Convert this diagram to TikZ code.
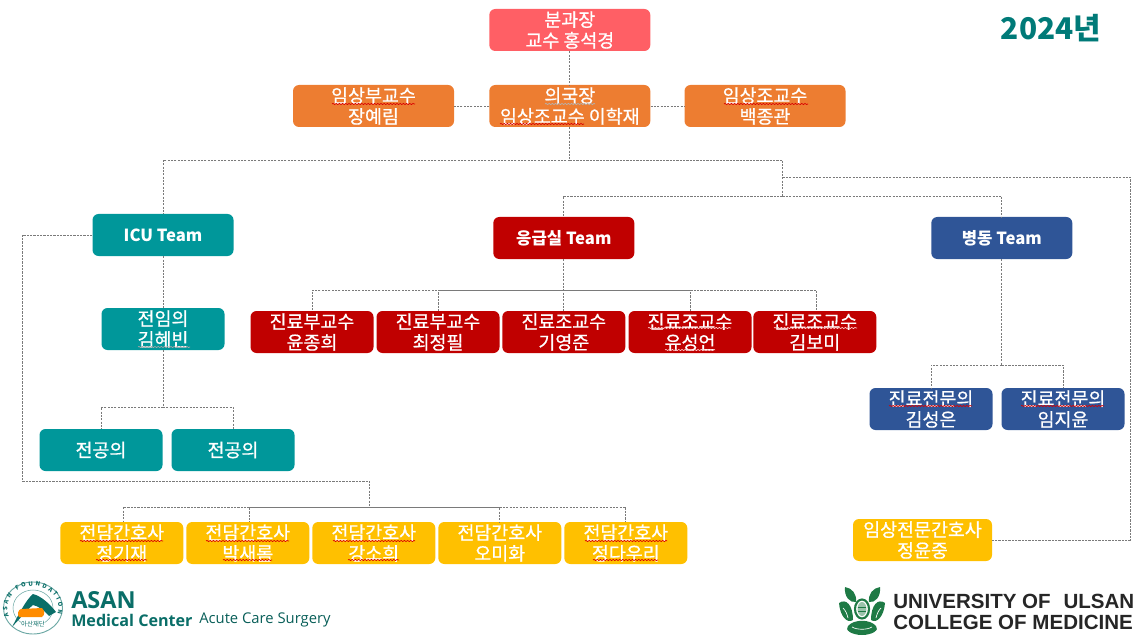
\documentclass[tikz,border=0pt]{standalone}
\usepackage{fontspec}
\setmainfont{Noto Sans CJK KR}
\newfontfamily\krb{Noto Sans CJK KR}[FakeBold=0.7]
\newfontfamily\lheavy{Open Sans}
\newfontfamily\lib{Liberation Sans}
\usetikzlibrary{decorations.pathmorphing,decorations.text}
\definecolor{cpink}{HTML}{FF5F65}
\definecolor{corange}{HTML}{ED7D31}
\definecolor{cteal}{HTML}{00979A}
\definecolor{cred}{HTML}{C00000}
\definecolor{cblue}{HTML}{2F5597}
\definecolor{cyellow}{HTML}{FFC000}
\definecolor{cyear}{HTML}{007A78}
\definecolor{casan}{HTML}{0A6E68}
\definecolor{cgreen}{HTML}{1E7A45}
\definecolor{cline}{HTML}{7A7A7A}
\tikzset{
  orgbox/.style={rounded corners=4.5pt,inner sep=0pt,text=white,align=center,
    minimum width=92.25pt,minimum height=31.5pt,
    font=\krb\fontsize{13.8}{15.6}\selectfont},
  wide/.style={minimum width=120.75pt},
  teambox/.style={orgbox,minimum width=105.75pt,font=\fontsize{12.5}{15}\bfseries},
  conn/.style={draw=cline,line width=.55pt,dash pattern=on 1.6pt off .9pt},
  conninner/.style={conn,dash phase=1.3pt},
  squig/.style={line width=.5pt,decorate,decoration={snake,amplitude=.45pt,segment length=2.4pt}},
}
\newcommand{\sq}[4][red!85!black]{\draw[squig,#1] (#2,#4) -- (#3,#4);}
\begin{document}
\begin{tikzpicture}[x=.75pt,y=-.75pt]
\useasboundingbox (0,0) rectangle (1139,638);
% top
\node[orgbox,wide,fill=cpink] (top) at (569.8,30) {분과장\\교수 홍석경};
\node[orgbox,wide,fill=corange] (dir) at (569.8,106) {의국장\\임상조교수 이학재};
\node[orgbox,wide,fill=corange] (assoc) at (373.5,106) {임상부교수\\장예림};
\node[orgbox,wide,fill=corange] (asst) at (765,106) {임상조교수\\백종관};
% teams
\node[teambox,fill=cteal] (icu) at (163,235) {ICU Team};
\node[teambox,fill=cred] (er) at (563.8,238) {응급실 Team};
\node[teambox,fill=cblue] (ward) at (1001.8,238) {병동 Team};
% ICU
\node[orgbox,fill=cteal] (fellow) at (163,329) {전임의\\김혜빈};
\node[orgbox,fill=cteal] (res1) at (101,450) {전공의};
\node[orgbox,fill=cteal] (res2) at (233,450) {전공의};
% ER
\node[orgbox,fill=cred] (r1) at (312,332) {진료부교수\\윤종희};
\node[orgbox,fill=cred] (r2) at (438,332) {진료부교수\\최정필};
\node[orgbox,fill=cred] (r3) at (563.8,332) {진료조교수\\기영준};
\node[orgbox,fill=cred] (r4) at (690,332) {진료조교수\\유성언};
\node[orgbox,fill=cred] (r5) at (814.8,332) {진료조교수\\김보미};
% ward
\node[orgbox,fill=cblue] (w1) at (931,409) {진료전문의\\김성은};
\node[orgbox,fill=cblue] (w2) at (1063,409) {진료전문의\\임지윤};
% nurses
\node[orgbox,fill=cyellow] (n1) at (121.8,543) {전담간호사\\정기재};
\node[orgbox,fill=cyellow] (n2) at (247.8,543) {전담간호사\\박새롬};
\node[orgbox,fill=cyellow] (n3) at (373.8,543) {전담간호사\\강소희};
\node[orgbox,fill=cyellow] (n4) at (499.8,543) {전담간호사\\오미화};
\node[orgbox,fill=cyellow] (n5) at (625.8,543) {전담간호사\\정다우리};
\node[orgbox,minimum width=104.25pt,fill=cyellow] (np) at (922.5,540) {임상전문간호사\\정윤중};
% year
\node[text=cyear,inner sep=0pt,font=\fontsize{22.4}{26}\bfseries] (year) at (1051,28) {2024년};
% junctions
\coordinate (j1) at (569.8,160);
\coordinate (j2) at (782.5,160);
\coordinate (j3) at (782.5,177);
\coordinate (j4) at (782.5,196);
\coordinate (cr) at (1130,177);
\coordinate (cl1) at (22,235);
\coordinate (cl2) at (22,481);
\coordinate (cl3) at (369.5,481);
\coordinate (cl4) at (369.5,507);
\coordinate (j5) at (563.8,290);
\coordinate (j6) at (163,407);
\coordinate (j7) at (1001.8,365);
% connectors
\draw[conn] (top) -- (dir);
\draw[conn] (dir) -- (assoc);
\draw[conn] (dir) -- (asst);
\draw[conn] (dir) -- (j1);
\draw[conn] (j1) -| (icu);
\draw[conn] (j1) -- (j2) -- (j4);
\draw[conn] (j4) -| (er);
\draw[conn] (j4) -| (ward);
\draw[conn] (j3) -- (cr) |- (np);
\draw[conn] (icu) -- (cl1) -- (cl2) -- (cl3) -- (cl4);
\draw[conn] (cl4) -| ([xshift=.9pt]n1.north);
\draw[conninner] (cl4) -| ([xshift=.9pt]n2.north);
\draw[conninner] (cl4) -| (n4);
\draw[conn] (cl4) -| (n5);
\draw[conn] (er) -- (r3);
\draw[conn] (j5) -| (r1);
\draw[conninner] (j5) -| (r2);
\draw[conninner] (j5) -| (r4);
\draw[conn] (j5) -| ([xshift=.9pt]r5.north);
\draw[conn] (icu) -- (fellow);
\draw[conn] (fellow) -- (j6);
\draw[conn] (j6) -| (res1);
\draw[conn] (j6) -| (res2);
\draw[conn] (ward) -- (j7);
\draw[conn] (j7) -| (w1);
\draw[conn] (j7) -| (w2);
% spell-check squiggles
\sq{332}{415}{104}
\sq[gray!60!white]{545}{595}{104}
\sq{500}{584}{124}
\sq{724}{808}{104}
\sq[gray!70!white]{138}{190}{347}
\sq[white!80!red]{648}{731}{328}
\sq[white!80!red]{665}{715}{350}
\sq[white!80!red]{774}{857}{328}
\sq{889}{972}{406}
\sq{1021}{1104}{406}
\sq{80}{163}{541}
\sq{96}{147}{560}
\sq{206}{289}{541}
\sq{223}{272}{560}
\sq{333}{415}{541}
\sq{348}{399}{560}
\sq{585}{667}{541}
\sq{593}{658}{560}
% ASAN logo
\draw[casan!60!white,line width=.7pt] (33,608) ellipse [x radius=29.5,y radius=26];
\draw[casan!60!white,line width=.4pt] (33,608) ellipse [x radius=20,y radius=18];
\path[decorate,decoration={text along path,text align={fit to path},
  text={|\fontsize{4.4}{6}\bfseries\color{casan}|ASAN FOUNDATION}}]
  (8.9,616) arc[start angle=160,end angle=375,x radius=25.5,y radius=22.5];
\fill[casan] (12,627) .. controls (20,612) and (26,600) .. (33,594) .. controls (41,596) and (50,604) .. (56,612)
  -- (49,616) .. controls (44,610) and (38,606) .. (33,605) .. controls (29,608) and (24,614) .. (12,627) -- cycle;
\fill[orange!90!yellow] (21,609) -- (42,608) .. controls (45,611) and (45,615) .. (42,617) -- (19,617) .. controls (17,614) and (18,610) .. (21,609) -- cycle;
\node[text=casan,fill=white,inner sep=.3pt,font=\fontsize{4.8}{6}\selectfont] (logoko) at (33,624) {아산재단};
\node[anchor=west,text=casan,inner sep=0pt,font=\lheavy\fontsize{17.6}{20}\bfseries] (asan) at (71,600) {ASAN};
\node[anchor=west,text=casan,inner sep=0pt,font=\lheavy\fontsize{12.1}{14}\bfseries] (mc) at (71,620) {Medical Center};
\node[anchor=west,text=casan!85!black,inner sep=0pt,font=\lheavy\fontsize{11.1}{14}\selectfont] (acs) at (199,620) {Acute Care Surgery};
% Ulsan emblem
\fill[cgreen] (845,587) .. controls (852,588) and (857,594) .. (856,602) .. controls (850,603) and (844,597) .. (845,587) -- cycle;
\fill[cgreen] (880,587) .. controls (873,588) and (868,594) .. (869,602) .. controls (875,603) and (881,597) .. (880,587) -- cycle;
\fill[cgreen] (839,603) .. controls (846,598) and (853,605) .. (853,620) .. controls (847,624) and (840,616) .. (839,603) -- cycle;
\fill[cgreen] (885,603) .. controls (878,598) and (871,605) .. (871,620) .. controls (877,624) and (884,616) .. (885,603) -- cycle;
\draw[cgreen,line width=1.6pt] (862,609) ellipse [x radius=7,y radius=9.5];
\fill[cgreen!45!white] (862,609) ellipse [x radius=4.5,y radius=7];
\draw[cgreen,line width=.5pt] (858,607) -- (866,607) (858,611) -- (866,611);
\draw[white,line width=.5pt] (843,608) .. controls (846,611) and (847,614) .. (848,618) (881,608) .. controls (878,611) and (877,614) .. (876,618);
\fill[cgreen] (848,626) .. controls (854,619) and (870,619) .. (876,626) .. controls (880,630) and (872,635) .. (862,635) .. controls (852,635) and (844,630) .. (848,626) -- cycle;
\draw[white,line width=.5pt] (852,627) .. controls (857,630) and (867,630) .. (872,627);
\node[anchor=west,text=black!85,inner sep=0pt,font=\lib\fontsize{15.4}{17}\bfseries] (uou) at (893,601) {UNIVERSITY OF\hspace{.35em} ULSAN};
\node[anchor=west,text=black!85,inner sep=0pt,font=\lib\fontsize{15.4}{17}\bfseries] (com) at (893,622) {COLLEGE OF MEDICINE};
\end{tikzpicture}
\end{document}
